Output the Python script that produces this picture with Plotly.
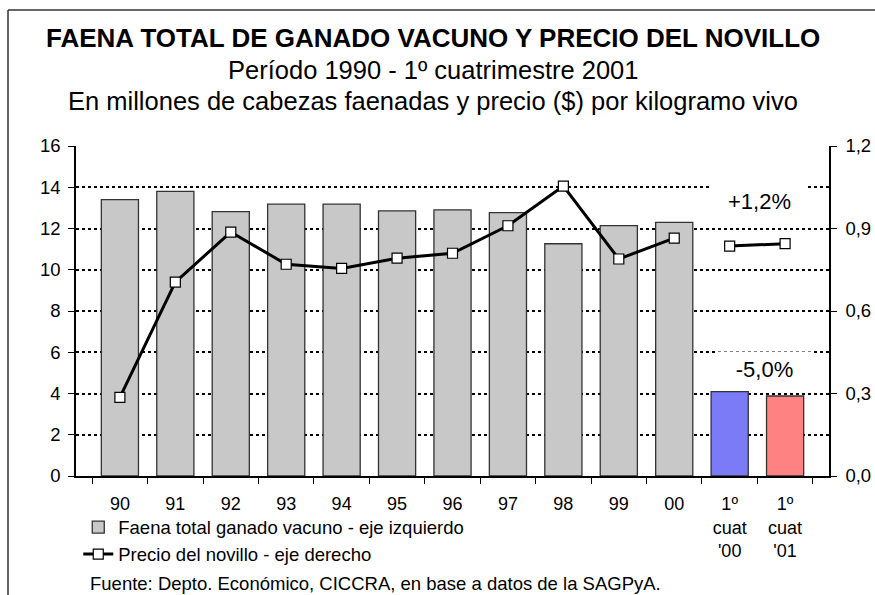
import plotly.graph_objects as go

categories = ["90", "91", "92", "93", "94", "95", "96", "97", "98", "99", "00",
              "1º<br>cuat<br>'00", "1º<br>cuat<br>'01"]
faena = [13.40, 13.80, 12.82, 13.18, 13.18, 12.85, 12.90, 12.77, 11.26, 12.14, 12.30, 4.09, 3.88]
precio = [0.286, 0.705, 0.887, 0.770, 0.755, 0.792, 0.810, 0.910, 1.054, 0.789, 0.865, 0.836, 0.845]
bar_colors = ["#c8c8c8"] * 11 + ["#7b7bf8", "#ff8282"]
left_ticks = [0, 2, 4, 6, 8, 10, 12, 14, 16]
right_tickvals = [0.0, 0.3, 0.6, 0.9, 1.2]
right_ticktext = ["0,0", "0,3", "0,6", "0,9", "1,2"]

FONT = "Liberation Sans, Arial, sans-serif"

fig = go.Figure()
fig.add_trace(go.Bar(
    x=categories, y=faena, name="Faena total ganado vacuno - eje izquierdo",
    marker=dict(color=bar_colors, line=dict(color="#333333", width=1.3)),
    yaxis="y",
))
fig.add_trace(go.Scatter(
    x=categories[:11], y=precio[:11], name="Precio del novillo - eje derecho",
    mode="lines+markers", yaxis="y2",
    line=dict(color="black", width=3),
    marker=dict(symbol="square", size=10, color="white", line=dict(color="black", width=1.2)),
))
fig.add_trace(go.Scatter(
    x=categories[11:], y=precio[11:], name="Precio del novillo - eje derecho",
    mode="lines+markers", yaxis="y2", showlegend=False,
    line=dict(color="black", width=3),
    marker=dict(symbol="square", size=10, color="white", line=dict(color="black", width=1.2)),
))

fig.update_layout(
    width=875, height=595,
    margin=dict(l=76, r=46, t=146, b=119, autoexpand=False),
    paper_bgcolor="white", plot_bgcolor="white",
    font=dict(family=FONT, color="black", size=18),
    bargap=0.33,
    showlegend=True,
    legend=dict(x=0.003, y=-0.197, xanchor="left", yanchor="middle",
                font=dict(size=18.5), bgcolor="rgba(0,0,0,0)", itemwidth=30,
                tracegroupgap=0),
    xaxis=dict(
        type="category", tickson="boundaries", ticks="outside", ticklen=6,
        tickcolor="black", showline=True, linecolor="black", linewidth=1.5,
        showgrid=False, tickfont=dict(size=18), ticklabelstandoff=11,
        automargin=False,
    ),
    yaxis=dict(
        range=[0, 16], tickvals=left_ticks, ticks="outside", ticklen=6,
        tickcolor="black", showline=True, linecolor="black", linewidth=1.5,
        showgrid=True, gridcolor="black", gridwidth=2, griddash="3px,3px",
        zeroline=False, tickfont=dict(size=18.5), automargin=False,
        ticklabelstandoff=4,
    ),
    yaxis2=dict(
        range=[0, 1.2], overlaying="y", side="right", tickvals=right_tickvals,
        ticktext=right_ticktext, ticks="outside", ticklen=6, tickcolor="black",
        showline=True, linecolor="black", linewidth=1.5, showgrid=False,
        zeroline=False, tickfont=dict(size=18.5), automargin=False,
        ticklabelstandoff=5,
    ),
)

# Frame
fig.add_shape(type="line", xref="paper", yref="paper", x0=-0.0903, x1=-0.0903,
              y0=1.412, y1=-0.5, line=dict(color="#333333", width=1.5))
fig.add_shape(type="line", xref="paper", yref="paper", x0=-0.0903, x1=1.2,
              y0=1.412, y1=1.412, line=dict(color="#333333", width=1.5))

# Titles
fig.add_annotation(text="<b>FAENA TOTAL DE GANADO VACUNO Y PRECIO DEL NOVILLO</b>",
                   xref="paper", yref="paper", x=0.474, y=1.327, showarrow=False,
                   font=dict(size=26), xanchor="center", yanchor="middle")
fig.add_annotation(text="Período 1990 - 1º cuatrimestre 2001",
                   xref="paper", yref="paper", x=0.474, y=1.231, showarrow=False,
                   font=dict(size=25.5), xanchor="center", yanchor="middle")
fig.add_annotation(text="En millones de cabezas faenadas y precio ($) por kilogramo vivo",
                   xref="paper", yref="paper", x=0.474, y=1.135, showarrow=False,
                   font=dict(size=25.5), xanchor="center", yanchor="middle")

# Change labels
fig.add_annotation(text="+1,2%", xref="paper", yref="y", x=0.908, y=13.33,
                   showarrow=False, font=dict(size=22), bgcolor="white",
                   width=85, borderpad=5, xanchor="center", yanchor="middle")
fig.add_annotation(text="-5,0%", xref="paper", yref="y", x=0.914, y=5.17,
                   showarrow=False, font=dict(size=22), bgcolor="white",
                   width=85, borderpad=5, xanchor="center", yanchor="middle")

# Source
fig.add_annotation(text="Fuente: Depto. Económico, CICCRA, en base a datos de la SAGPyA.",
                   xref="paper", yref="paper", x=0.016, y=-0.327, showarrow=False,
                   font=dict(size=18.5), xanchor="left", yanchor="middle")

fig.write_html("out.html", config={"displayModeBar": False},
               post_script="document.body.style.margin='0';document.body.style.overflow='hidden';")
